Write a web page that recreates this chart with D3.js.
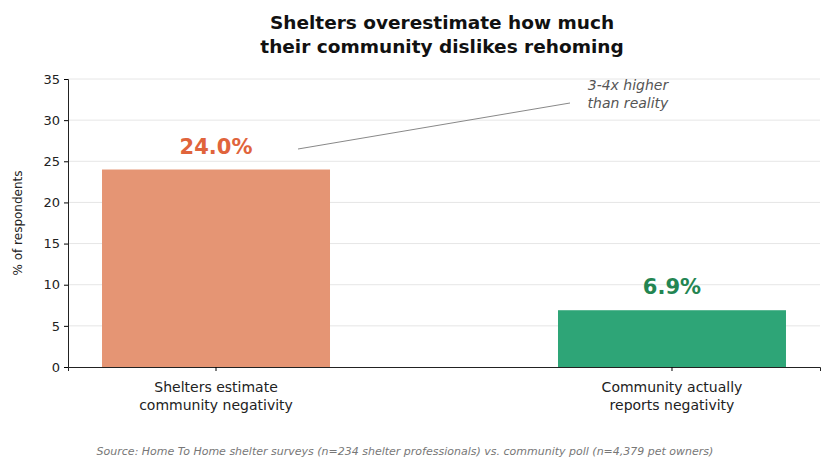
<!DOCTYPE html>
<html><head><meta charset="utf-8">
<script src="https://cdn.jsdelivr.net/npm/d3@7"></script>
<style>body{margin:0;background:#fff;font-family:"DejaVu Sans",sans-serif}</style>
</head><body>
<svg id="chart" width="834" height="472"></svg>
<script>
const categories = ['Shelters estimate\ncommunity negativity', 'Community actually\nreports negativity'];
const values = [24.0, 6.9];
const valueLabels = ['24.0%', '6.9%'];
const barColors = ['#e59574', '#2ea577'];
const labelColors = ['#e0643c', '#238552'];
const yTicks = [0, 5, 10, 15, 20, 25, 30, 35];

const svg = d3.select('#chart');
const margin = { top: 79, right: 14, bottom: 105, left: 68 };
const width = +svg.attr('width');
const height = +svg.attr('height');

const x = d3.scaleBand()
  .domain(categories)
  .range([margin.left, width - margin.right])
  .paddingInner(0.5)
  .paddingOuter(0.0746);

const y = d3.scaleLinear()
  .domain([0, 35])
  .range([height - margin.bottom, margin.top]);

// gridlines
svg.append('g')
  .selectAll('line')
  .data(yTicks.slice(1))
  .enter().append('line')
  .attr('x1', margin.left).attr('x2', width - margin.right)
  .attr('y1', d => y(d)).attr('y2', d => y(d))
  .attr('stroke', '#e6e6e6').attr('stroke-width', 1);

svg.selectAll('.bar')
  .data(values)
  .enter().append('rect')
  .attr('x', (d, i) => x(categories[i]))
  .attr('y', d => y(d))
  .attr('width', x.bandwidth())
  .attr('height', d => y(0) - y(d))
  .attr('fill', (d, i) => barColors[i]);

svg.selectAll('.vlabel')
  .data(values)
  .enter().append('text')
  .attr('x', (d, i) => x(categories[i]) + x.bandwidth() / 2)
  .attr('y', d => y(d) - 16)
  .attr('text-anchor', 'middle')
  .attr('font-size', 21).attr('font-weight', 'bold')
  .attr('fill', (d, i) => labelColors[i])
  .text((d, i) => valueLabels[i]);

const yAxis = svg.append('g')
  .attr('transform', `translate(${margin.left},0)`)
  .call(d3.axisLeft(y).tickValues(yTicks).tickSize(4).tickPadding(4));
yAxis.selectAll('text').attr('font-size', 13).attr('fill', '#222').attr('font-family', 'DejaVu Sans');

const xAxis = svg.append('g')
  .attr('transform', `translate(0,${y(0)})`)
  .call(d3.axisBottom(x).tickSize(4).tickFormat(''));
xAxis.selectAll('.tick').each(function(d) {
  const t = d3.select(this).append('text')
    .attr('fill', '#222').attr('font-size', 14).attr('text-anchor', 'middle')
    .attr('font-family', 'DejaVu Sans');
  d.split('\n').forEach((s, i) => t.append('tspan').attr('x', 0).attr('y', 25 + i * 18).text(s));
});
svg.selectAll('.domain').attr('stroke', '#222');

svg.append('text')
  .attr('transform', `translate(22,${(y(0) + y(35)) / 2}) rotate(-90)`)
  .attr('text-anchor', 'middle').attr('font-size', 12).attr('fill', '#222')
  .text('% of respondents');

// title
const title = svg.append('text').attr('text-anchor', 'middle')
  .attr('font-size', 18.5).attr('font-weight', 'bold').attr('fill', '#111');
title.append('tspan').attr('x', 442).attr('y', 29).text('Shelters overestimate how much');
title.append('tspan').attr('x', 442).attr('y', 53).text('their community dislikes rehoming');

// annotation
svg.append('line')
  .attr('x1', 298).attr('y1', 149).attr('x2', 570).attr('y2', 103)
  .attr('stroke', '#888').attr('stroke-width', 1);
const ann = svg.append('text').attr('text-anchor', 'middle')
  .attr('font-size', 14).attr('font-style', 'italic').attr('fill', '#555');
ann.append('tspan').attr('x', 628).attr('y', 90).text('3-4x higher');
ann.append('tspan').attr('x', 628).attr('y', 108).text('than reality');

svg.append('text')
  .attr('x', 405).attr('y', 455).attr('text-anchor', 'middle')
  .attr('font-size', 11).attr('font-style', 'italic').attr('fill', '#777')
  .text('Source: Home To Home shelter surveys (n=234 shelter professionals) vs. community poll (n=4,379 pet owners)');
</script>
</body></html>
